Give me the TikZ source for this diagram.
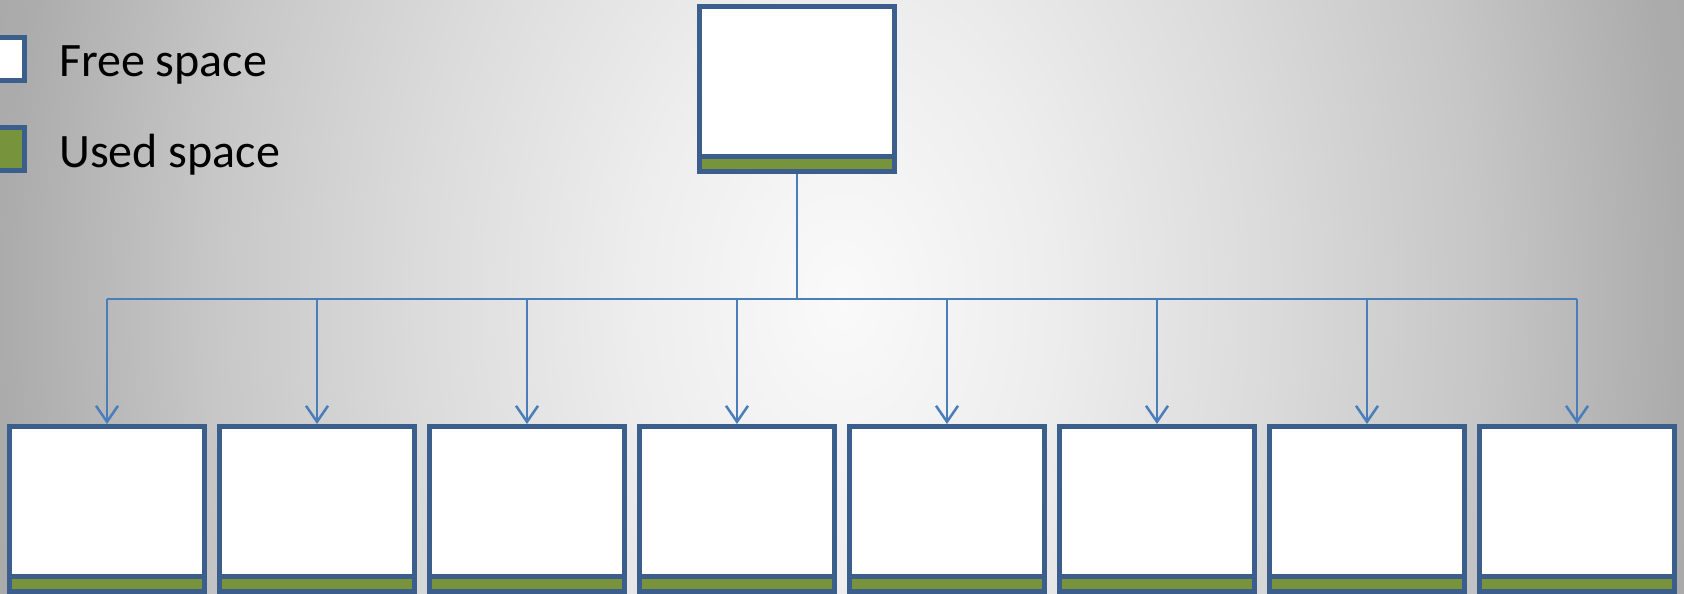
\documentclass[tikz,border=0pt]{standalone}
\usepackage{fontspec}
\setmainfont{Carlito}
\usetikzlibrary{positioning, arrows.meta}

\definecolor{frameblue}{HTML}{3B5E8C}
\definecolor{linkblue}{HTML}{4A7EBB}
\definecolor{usedgreen}{HTML}{77933C}

% light in the middle, grey towards the sides (25bp = edge of the shaded path)
\pgfdeclareradialshading{bgshade}{\pgfpoint{0bp}{0bp}}{%
  color(0bp)=(white!98!black); color(6.25bp)=(white!93!black);
  color(12.5bp)=(white!86!black); color(18.75bp)=(white!78!black);
  color(25bp)=(white!67!black); color(50bp)=(white!60!black)}

\begin{document}
\begin{tikzpicture}[
  x=1pt, y=1pt,
  node distance=-5pt and 10pt, % bars share the frame line with the box above
  every node/.style={font=\fontsize{48}{57}\selectfont},
  free/.style={draw=frameblue, line width=5pt, fill=white, minimum width=195pt, minimum height=150pt, inner sep=0pt},
  used/.style={draw=frameblue, line width=5pt, fill=usedgreen, minimum width=195pt, minimum height=15pt, inner sep=0pt},
  legendbox/.style={minimum width=43pt, minimum height=43pt},
  legend/.style={inner sep=0pt, anchor=base west},
  link/.style={draw=linkblue, line width=2.5pt},
  arrow/.style={link, -{Straight Barb[length=16pt, width=22pt]}}
]

\useasboundingbox (0,0) rectangle (1684,594);

% Background
\begin{scope}
  \clip (0,0) rectangle (1684,594);
  \shade[shading=bgshade] (0,-903) rectangle (1684,1497);
\end{scope}

% Legend
\node[free, legendbox] (legfree) at (3,535) {};
\node[used, legendbox] (legused) at (3,444.5) {};
\node[legend] (freetext) at (59,517) {Free space};
\node[legend] (usedtext) at (59,426) {Used space};

% Nodes
\node[free] (parent) at (797,512.5) {};
\node[used, below=of parent] (parentused) {};

\node[free] (child1) at (107,92.5) {};
\node[free, right=of child1] (child2) {};
\node[free, right=of child2] (child3) {};
\node[free, right=of child3] (child4) {};
\node[free, right=of child4] (child5) {};
\node[free, right=of child5] (child6) {};
\node[free, right=of child6] (child7) {};
\node[free, right=of child7] (child8) {};

\node[used, below=of child1] (child1used) {};
\node[used, below=of child2] (child2used) {};
\node[used, below=of child3] (child3used) {};
\node[used, below=of child4] (child4used) {};
\node[used, below=of child5] (child5used) {};
\node[used, below=of child6] (child6used) {};
\node[used, below=of child7] (child7used) {};
\node[used, below=of child8] (child8used) {};

% Arrows
\coordinate (bus) at (797,295);
\draw[link] (parentused.south) -- (bus);
\draw[link] (child1.north |- bus) -- (child8.north |- bus);
\draw[arrow] (child1.north |- bus) -- (child1.north);
\draw[arrow] (child2.north |- bus) -- (child2.north);
\draw[arrow] (child3.north |- bus) -- (child3.north);
\draw[arrow] (child4.north |- bus) -- (child4.north);
\draw[arrow] (child5.north |- bus) -- (child5.north);
\draw[arrow] (child6.north |- bus) -- (child6.north);
\draw[arrow] (child7.north |- bus) -- (child7.north);
\draw[arrow] (child8.north |- bus) -- (child8.north);

\end{tikzpicture}
\end{document}
